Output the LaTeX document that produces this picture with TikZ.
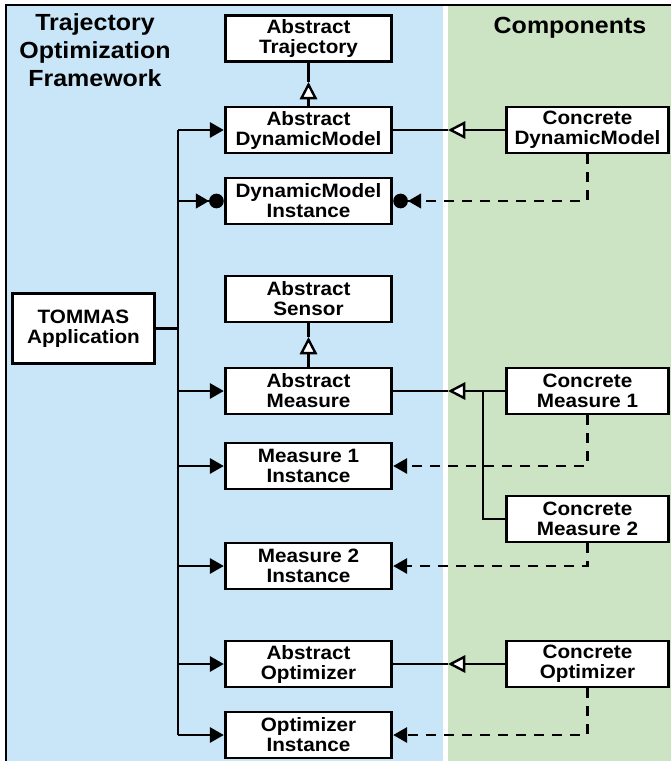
\documentclass[tikz,border=0pt]{standalone}
\usepackage{fontspec}
\setmainfont{Liberation Sans}
\newfontfamily\tofwide[FakeStretch=1.07]{Liberation Sans}
\usetikzlibrary{arrows.meta, positioning, calc}
\definecolor{tofblue}{HTML}{C8E6F8}
\definecolor{tofgreen}{HTML}{CCE4C4}

\begin{document}
\begin{tikzpicture}[x=0.75pt, y=-0.75pt,
    cls/.style={draw, line width=2.1pt, fill=white, minimum width=#1,
                minimum height=34.5pt, inner sep=0pt, align=center,
                font=\tofwide\bfseries\fontsize{14.5}{15}\selectfont},
    cls/.default=125pt,
    title/.style={align=center, font=\tofwide\bfseries\fontsize{17.5}{21}\selectfont},
    conn/.style={line width=1.8pt},
    dep/.style={line width=1.8pt, dash pattern=on 7.5pt off 6pt},
    gen/.style={-{Triangle[open, fill=white, length=13pt, width=13pt]}},
    call/.style={-{Triangle[length=10.5pt, width=11.5pt]}},
    inst/.style={-{Triangle[length=10pt, width=11pt] Circle[length=11pt]}},
]
    \useasboundingbox (0,0) rectangle (671,761);
    \fill[white] (0,0) rectangle (671,761);
    \fill[tofblue] (7,6) rectangle (443,761);
    \fill[tofgreen] (448,6) rectangle (671,761);
    \draw[line width=1.9pt] (6,761) -- (6,5) -- (671,5);

    \node[title] (fwTitle) at (95,50) {Trajectory\\Optimization\\Framework};
    \node[title] (compTitle) at (570,28) {Components};

    \node[cls, minimum width=106pt, minimum height=53pt] (tommas) at (83.5,328.5) {TOMMAS\\Application};

    \node[cls] (absTraj) at (308.5,38.5) {Abstract\\Trajectory};
    \node[cls] (absDM) at (308.5,130) {Abstract\\DynamicModel};
    \node[cls] (dmInst) at (308.5,201) {DynamicModel\\Instance};
    \node[cls] (absSensor) at (308.5,299) {Abstract\\Sensor};
    \node[cls] (absMeas) at (308.5,391) {Abstract\\Measure};
    \node[cls] (meas1Inst) at (308.5,466) {Measure 1\\Instance};
    \node[cls] (meas2Inst) at (308.5,566) {Measure 2\\Instance};
    \node[cls] (absOpt) at (308.5,664) {Abstract\\Optimizer};
    \node[cls] (optInst) at (308.5,735) {Optimizer\\Instance};

    \node[cls=122pt] (concDM) at (587.5,130) {Concrete\\DynamicModel};
    \node[cls=122pt] (concM1) at (587.5,391) {Concrete\\Measure 1};
    \node[cls=122pt] (concM2) at (587.5,519) {Concrete\\Measure 2};
    \node[cls=122pt] (concOpt) at (587.5,664) {Concrete\\Optimizer};

    \coordinate (bus) at (178,0);
    \coordinate (split) at (448,0);
    \coordinate (mjoin) at (483,0);
    \coordinate (trajTip) at (308.5,82);
    \coordinate (sensTip) at (308.5,337);

    \draw[conn] (tommas.east) -- (bus |- tommas.east);
    \draw[conn] (bus |- absDM.west) -- (bus |- optInst.west);
    \draw[conn, call] (bus |- absDM.west) -- (absDM.west);
    \draw[conn, inst] (bus |- dmInst.west) -- (dmInst.west);
    \draw[conn, call] (bus |- absMeas.west) -- (absMeas.west);
    \draw[conn, call] (bus |- meas1Inst.west) -- (meas1Inst.west);
    \draw[conn, call] (bus |- meas2Inst.west) -- (meas2Inst.west);
    \draw[conn, call] (bus |- absOpt.west) -- (absOpt.west);
    \draw[conn, call] (bus |- optInst.west) -- (optInst.west);

    \draw[conn] (absTraj.south) -- (trajTip);
    \draw[conn, gen] (absDM.north) -- (trajTip);
    \draw[conn] (absSensor.south) -- (sensTip);
    \draw[conn, gen] (absMeas.north) -- (sensTip);

    \draw[conn] (absDM.east) -- (split |- absDM.east);
    \draw[conn, gen] (concDM.west) -- (split |- concDM.west);
    \draw[conn] (absMeas.east) -- (split |- absMeas.east);
    \draw[conn, gen] (concM1.west) -- (split |- concM1.west);
    \draw[conn] (mjoin |- concM1.west) |- (concM2.west);
    \draw[conn] (absOpt.east) -- (split |- absOpt.east);
    \draw[conn, gen] (concOpt.west) -- (split |- concOpt.west);

    \draw[dep, inst] (concDM.south) |- (dmInst.east);
    \draw[dep, call] (concM1.south) |- (meas1Inst.east);
    \draw[dep, call] (concM2.south) |- (meas2Inst.east);
    \draw[dep, call] (concOpt.south) |- (optInst.east);
\end{tikzpicture}
\end{document}
